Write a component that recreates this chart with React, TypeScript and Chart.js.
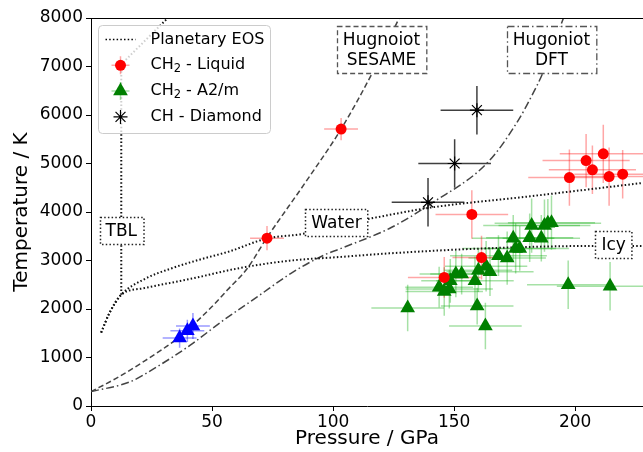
import React, { useEffect, useRef } from "react";
import { Chart, registerables } from "chart.js";
Chart.register(...registerables);

// ---------- data ----------
const liquidP = [72.7, 103.3, 157.3, 161.3, 145.9, 197.6, 204.5, 207.1, 211.6, 214.0, 219.6];
const liquidT = [3460, 5710, 3950, 3060, 2650, 4710, 5060, 4870, 5200, 4730, 4780];
const liquidPErr = [7, 7, 15, 12, 15, 17, 18, 18, 18, 15, 20];
const liquidTErr = [250, 230, 500, 450, 420, 580, 550, 500, 600, 600, 500];

const a2mP = [130.8, 143.8, 145.9, 148, 148.4, 150.7, 153.1, 158.6, 159.5, 160, 163.2, 162.9, 164.8, 168.3, 171.9, 174.4, 175.4, 177.1, 181.2, 182, 186, 187.3, 188.7, 190.2, 197.1, 214.4];
const a2mT = [2020, 2450, 2360, 2410, 2580, 2720, 2720, 2580, 2060, 2800, 2880, 1650, 2770, 3100, 3050, 3460, 3250, 3250, 3470, 3720, 3460, 3720, 3770, 3780, 2500, 2470];
const a2mPErr = [15, 14, 16, 18, 12, 15, 13, 16, 15, 14, 17, 15, 18, 20, 16, 17, 22, 15, 18, 20, 16, 19, 22, 18, 17, 22];
const a2mTErr = [480, 420, 500, 400, 450, 480, 420, 500, 380, 450, 520, 480, 500, 420, 550, 480, 520, 460, 500, 560, 480, 540, 500, 560, 500, 500];

const blueP = [36.6, 39.8, 42.1];
const blueT = [1400, 1550, 1650];
const bluePErr = [7, 7, 7];
const blueTErr = [200, 230, 270];

const diamondP = [159.4, 150.2, 139.2];
const diamondT = [6100, 5000, 4200];
const diamondPErr = [15, 15, 15];
const diamondTErr = [500, 500, 500];

const waterP = [4.2, 7.6, 12.5, 22.1, 32.4, 44.8, 57.2, 72.4, 87.5, 100, 113, 127.5, 140, 181.4, 228];
const waterT = [1514, 1915, 2293, 2617, 2824, 3017, 3188, 3450, 3550, 3700, 3840, 3980, 4090, 4324, 4600];
const icyP = [4.2, 7.6, 12.5, 22.1, 40.7, 61.4, 82, 102.7, 124, 165.6, 208, 228];
const icyT = [1514, 1915, 2293, 2431, 2617, 2844, 2996, 3072, 3150, 3255, 3300, 3300];
const tblP = [12.5, 12.5, 31.7];
const tblT = [2293, 7045, 8000];

const sesameP = [0, 10, 20, 36.6, 50, 56.3, 64.6, 72.4, 88.9, 103.3, 115.8, 127.4];
const sesameT = [296, 560, 860, 1430, 2050, 2390, 2840, 3450, 4634, 5710, 6830, 8010];
const dftP = [0, 16.2, 27.3, 41, 54.9, 68.8, 82.6, 96.4, 103.3, 124, 140.7, 164.2, 176.6, 182.2, 186.3, 195.3];
const dftT = [296, 500, 810, 1255, 1775, 2255, 2735, 3115, 3250, 3680, 4180, 5040, 5900, 6410, 6830, 8020];

const xTicks = [0, 50, 100, 150, 200];
const yTicks = [0, 1000, 2000, 3000, 4000, 5000, 6000, 7000, 8000];

const boxLabels = ["TBL", "Water", "Icy", "Hugnoiot\nSESAME", "Hugoniot\nDFT"];
const boxP = [12.5, 101.4, 215.9, 120, 190.2];
const boxT = [3620, 3780, 3326, 7350, 7350];
const boxStyle = ["dot", "dot", "dot", "dash", "dashdot"];

const legendLabels = ["Planetary EOS", "CH|2| - Liquid", "CH|2| - A2/m", "CH - Diamond"];

const FONT = '"DejaVu Sans", sans-serif';

const pts = (xs: number[], ys: number[]) => xs.map((x, i) => ({ x, y: ys[i] }));

function drawStar(ctx: CanvasRenderingContext2D, x: number, y: number, r: number) {
  ctx.beginPath();
  for (let k = 0; k < 4; k++) {
    const a = (k * Math.PI) / 4;
    ctx.moveTo(x + Math.cos(a) * r, y + Math.sin(a) * r);
    ctx.lineTo(x - Math.cos(a) * r, y - Math.sin(a) * r);
  }
  ctx.stroke();
}

function drawTri(ctx: CanvasRenderingContext2D, x: number, y: number, r: number) {
  ctx.beginPath();
  for (let k = 0; k < 3; k++) {
    const a = (k * 2 * Math.PI) / 3;
    const px = x + Math.sin(a) * r;
    const py = y - Math.cos(a) * r;
    if (k === 0) ctx.moveTo(px, py);
    else ctx.lineTo(px, py);
  }
  ctx.closePath();
  ctx.fill();
}

const errGroups = [
  { P: a2mP, T: a2mT, PE: a2mPErr, TE: a2mTErr, color: "rgba(0,170,0,0.35)" },
  { P: liquidP, T: liquidT, PE: liquidPErr, TE: liquidTErr, color: "rgba(255,0,0,0.35)" },
  { P: blueP, T: blueT, PE: bluePErr, TE: blueTErr, color: "rgba(0,0,255,0.4)" },
  { P: diamondP, T: diamondT, PE: diamondPErr, TE: diamondTErr, color: "rgba(30,30,30,0.85)" },
];

const errorBarPlugin = {
  id: "errorBars",
  beforeDatasetsDraw(chart: any) {
    const { ctx, chartArea: ca, scales } = chart;
    const xs = scales.x, ys = scales.y;
    ctx.save();
    ctx.beginPath();
    ctx.rect(ca.left, ca.top, ca.right - ca.left, ca.bottom - ca.top);
    ctx.clip();
    ctx.lineWidth = 1.5;
    for (const g of errGroups) {
      ctx.strokeStyle = g.color;
      for (let i = 0; i < g.P.length; i++) {
        const x0 = xs.getPixelForValue(g.P[i] - g.PE[i]);
        const x1 = xs.getPixelForValue(g.P[i] + g.PE[i]);
        const y0 = ys.getPixelForValue(g.T[i] - g.TE[i]);
        const y1 = ys.getPixelForValue(g.T[i] + g.TE[i]);
        const cx = xs.getPixelForValue(g.P[i]);
        const cy = ys.getPixelForValue(g.T[i]);
        ctx.beginPath();
        ctx.moveTo(x0, cy);
        ctx.lineTo(x1, cy);
        ctx.moveTo(cx, y0);
        ctx.lineTo(cx, y1);
        ctx.stroke();
      }
    }
    ctx.restore();
  },
  afterDatasetsDraw(chart: any) {
    const { ctx, scales } = chart;
    ctx.save();
    ctx.fillStyle = "#000";
    for (let i = 0; i < diamondP.length; i++) {
      const cx = scales.x.getPixelForValue(diamondP[i]);
      const cy = scales.y.getPixelForValue(diamondT[i]);
      ctx.fillRect(cx - 1.5, cy - 1.5, 3, 3);
    }
    ctx.restore();
  },
};

const boxPlugin = {
  id: "boxes",
  afterDatasetsDraw(chart: any) {
    const { ctx, scales } = chart;
    ctx.save();
    ctx.font = `17px ${FONT}`;
    ctx.textAlign = "center";
    ctx.textBaseline = "middle";
    for (let i = 0; i < boxLabels.length; i++) {
      const lines = boxLabels[i].split("\n");
      const cx = scales.x.getPixelForValue(boxP[i]);
      const cy = scales.y.getPixelForValue(boxT[i]);
      const w = Math.max(...lines.map((l) => ctx.measureText(l).width)) + 12;
      const lh = 20;
      const h = lines.length * lh + 7;
      const left = Math.round(cx - w / 2) + 0.5;
      const top = Math.round(cy - h / 2) + 0.5;
      ctx.fillStyle = "#fff";
      ctx.fillRect(left, top, w, h);
      if (boxStyle[i] === "dot") {
        ctx.strokeStyle = "#222";
        ctx.lineWidth = 1.5;
        ctx.setLineDash([1.5, 2.2]);
      } else if (boxStyle[i] === "dash") {
        ctx.strokeStyle = "#555";
        ctx.lineWidth = 1.3;
        ctx.setLineDash([5, 3]);
      } else {
        ctx.strokeStyle = "#555";
        ctx.lineWidth = 1.3;
        ctx.setLineDash([7, 3, 1.5, 3]);
      }
      ctx.strokeRect(left, top, w, h);
      ctx.setLineDash([]);
      ctx.fillStyle = "#000";
      lines.forEach((l, k) => {
        ctx.fillText(l, cx, top + 3.5 + lh / 2 + k * lh + 1);
      });
    }
    ctx.restore();
  },
};

const legendPlugin = {
  id: "customLegend",
  afterDraw(chart: any) {
    const { ctx, chartArea: ca } = chart;
    const left = ca.left + 7.5;
    const top = ca.top + 7.5;
    const w = 172;
    const h = 108;
    ctx.save();
    ctx.beginPath();
    const r = 4;
    ctx.moveTo(left + r, top);
    ctx.lineTo(left + w - r, top);
    ctx.arcTo(left + w, top, left + w, top + r, r);
    ctx.lineTo(left + w, top + h - r);
    ctx.arcTo(left + w, top + h, left + w - r, top + h, r);
    ctx.lineTo(left + r, top + h);
    ctx.arcTo(left, top + h, left, top + h - r, r);
    ctx.lineTo(left, top + r);
    ctx.arcTo(left, top, left + r, top, r);
    ctx.closePath();
    ctx.fillStyle = "rgba(255,255,255,0.8)";
    ctx.fill();
    ctx.strokeStyle = "#cccccc";
    ctx.lineWidth = 1;
    ctx.stroke();

    const hx0 = left + 7, hx1 = left + 37, hc = left + 22;
    const tx = left + 52;
    const rows = legendLabels.map((_, k) => top + 14 + k * 25.8);
    ctx.strokeStyle = "#000";
    ctx.lineWidth = 1.6;
    ctx.setLineDash([1.5, 2.2]);
    ctx.beginPath();
    ctx.moveTo(hx0, rows[0]);
    ctx.lineTo(hx1, rows[0]);
    ctx.stroke();
    ctx.setLineDash([]);
    ctx.strokeStyle = "rgba(255,0,0,0.35)";
    ctx.lineWidth = 1.5;
    ctx.beginPath();
    ctx.moveTo(hc - 9, rows[1]); ctx.lineTo(hc + 9, rows[1]);
    ctx.moveTo(hc, rows[1] - 9); ctx.lineTo(hc, rows[1] + 9);
    ctx.stroke();
    ctx.fillStyle = "#ff0000";
    ctx.beginPath();
    ctx.arc(hc, rows[1], 5.5, 0, Math.PI * 2);
    ctx.fill();
    ctx.strokeStyle = "rgba(0,170,0,0.35)";
    ctx.beginPath();
    ctx.moveTo(hc - 9, rows[2]); ctx.lineTo(hc + 9, rows[2]);
    ctx.moveTo(hc, rows[2] - 9); ctx.lineTo(hc, rows[2] + 9);
    ctx.stroke();
    ctx.fillStyle = "#008000";
    drawTri(ctx, hc, rows[2], 8.5);
    ctx.strokeStyle = "#000";
    ctx.lineWidth = 1.2;
    drawStar(ctx, hc, rows[3], 7);

    ctx.fillStyle = "#000";
    ctx.textBaseline = "middle";
    ctx.textAlign = "left";
    legendLabels.forEach((lab, k) => {
      const parts = lab.split("|");
      let x = tx;
      parts.forEach((p, j) => {
        if (j % 2 === 1) {
          ctx.font = `11.5px ${FONT}`;
          ctx.fillText(p, x, rows[k] + 4);
        } else {
          ctx.font = `16px ${FONT}`;
          ctx.fillText(p, x, rows[k]);
        }
        x += ctx.measureText(p).width;
      });
    });
    ctx.restore();
  },
};

const topSpinePlugin = {
  id: "topSpine",
  afterDraw(chart: any) {
    const { ctx, chartArea: ca } = chart;
    ctx.save();
    ctx.strokeStyle = "#000";
    ctx.lineWidth = 1;
    ctx.beginPath();
    ctx.moveTo(ca.left, Math.round(ca.top) + 0.5);
    ctx.lineTo(ca.right, Math.round(ca.top) + 0.5);
    ctx.stroke();
    ctx.restore();
  },
};

export default function App() {
  const ref = useRef<HTMLCanvasElement>(null);
  useEffect(() => {
    if (!ref.current) return;
    Chart.defaults.font.family = FONT;
    const lineCommon = {
      showLine: true,
      pointRadius: 0,
      pointHoverRadius: 0,
      fill: false,
      cubicInterpolationMode: "monotone" as const,
    };
    const chart = new Chart(ref.current, {
      type: "scatter",
      data: {
        datasets: [
          {
            label: "CH2 - Liquid",
            data: pts(liquidP, liquidT),
            pointStyle: "circle",
            pointRadius: 5.5,
            backgroundColor: "#ff0000",
            borderColor: "#ff0000",
            borderWidth: 0,
          },
          {
            label: "CH - Diamond",
            data: pts(diamondP, diamondT),
            pointStyle: "star",
            pointRadius: 7,
            backgroundColor: "#000",
            borderColor: "#000",
            borderWidth: 1.2,
          },
          {
            label: "CH2 - A2/m (low)",
            data: pts(blueP, blueT),
            pointStyle: "triangle",
            pointRadius: 8.5,
            backgroundColor: "#0000ff",
            borderColor: "#0000ff",
            borderWidth: 0,
          },
          {
            label: "CH2 - A2/m",
            data: pts(a2mP, a2mT),
            pointStyle: "triangle",
            pointRadius: 8.5,
            backgroundColor: "#008000",
            borderColor: "#008000",
            borderWidth: 0,
          },
          {
            label: "Water",
            data: pts(waterP, waterT),
            ...lineCommon,
            borderColor: "#111",
            borderWidth: 2,
            borderDash: [1.5, 2.2],
          },
          {
            label: "Icy",
            data: pts(icyP, icyT),
            ...lineCommon,
            borderColor: "#111",
            borderWidth: 2,
            borderDash: [1.5, 2.2],
          },
          {
            label: "TBL",
            data: pts(tblP, tblT),
            showLine: true,
            pointRadius: 0,
            tension: 0,
            borderColor: "#111",
            borderWidth: 2,
            borderDash: [1.5, 2.2],
          },
          {
            label: "Hugoniot SESAME",
            data: pts(sesameP, sesameT),
            ...lineCommon,
            borderColor: "#444",
            borderWidth: 1.5,
            borderDash: [5.5, 3],
          },
          {
            label: "Hugoniot DFT",
            data: pts(dftP, dftT),
            ...lineCommon,
            borderColor: "#444",
            borderWidth: 1.5,
            borderDash: [8, 3, 1.5, 3],
          },
        ],
      },
      options: {
        animation: false,
        responsive: false,
        devicePixelRatio: 1,
        layout: { autoPadding: false, padding: { top: 18, left: 0, right: 0, bottom: 0 } },
        plugins: {
          legend: { display: false },
          tooltip: { enabled: false },
        },
        scales: {
          x: {
            type: "linear",
            min: 0,
            max: 228,
            afterFit: (s: any) => {
              s.height = 46;
              s.paddingLeft = 0;
              s.paddingRight = 0;
            },
            afterBuildTicks: (s: any) => {
              s.ticks = xTicks.map((v) => ({ value: v }));
            },
            ticks: {
              font: { size: 17, family: FONT },
              color: "#000",
              padding: 1,
              maxRotation: 0,
              autoSkip: false,
              callback: (v: any) => String(v),
            },
            grid: {
              drawOnChartArea: false,
              drawTicks: true,
              tickLength: 5,
              color: "#000",
            },
            border: { display: true, color: "#000", width: 1 },
            title: {
              display: true,
              text: "Pressure / GPa",
              color: "#000",
              font: { size: 20, family: FONT },
              padding: { top: 0, bottom: 1 },
            },
          },
          y: {
            type: "linear",
            min: 0,
            max: 8000,
            afterFit: (s: any) => {
              s.width = 91;
              s.paddingTop = 0;
              s.paddingBottom = 0;
            },
            afterBuildTicks: (s: any) => {
              s.ticks = yTicks.map((v) => ({ value: v }));
            },
            ticks: {
              font: { size: 17, family: FONT },
              color: "#000",
              padding: 3,
              autoSkip: false,
              callback: (v: any) => String(v),
            },
            grid: {
              drawOnChartArea: false,
              drawTicks: true,
              tickLength: 5,
              color: "#000",
            },
            border: { display: true, color: "#000", width: 1 },
            title: {
              display: true,
              text: "Temperature / K",
              color: "#000",
              font: { size: 20, family: FONT },
              padding: { top: 10, bottom: 0 },
            },
          },
        },
      },
      plugins: [errorBarPlugin, boxPlugin, topSpinePlugin, legendPlugin],
    } as any);
    return () => chart.destroy();
  }, []);
  return (
    <div style={{ position: "fixed", left: 0, top: 0, width: 643, height: 452, background: "#fff", overflow: "hidden" }}>
      <canvas ref={ref} width={643} height={452} style={{ display: "block", width: 643, height: 452 }} />
    </div>
  );
}
